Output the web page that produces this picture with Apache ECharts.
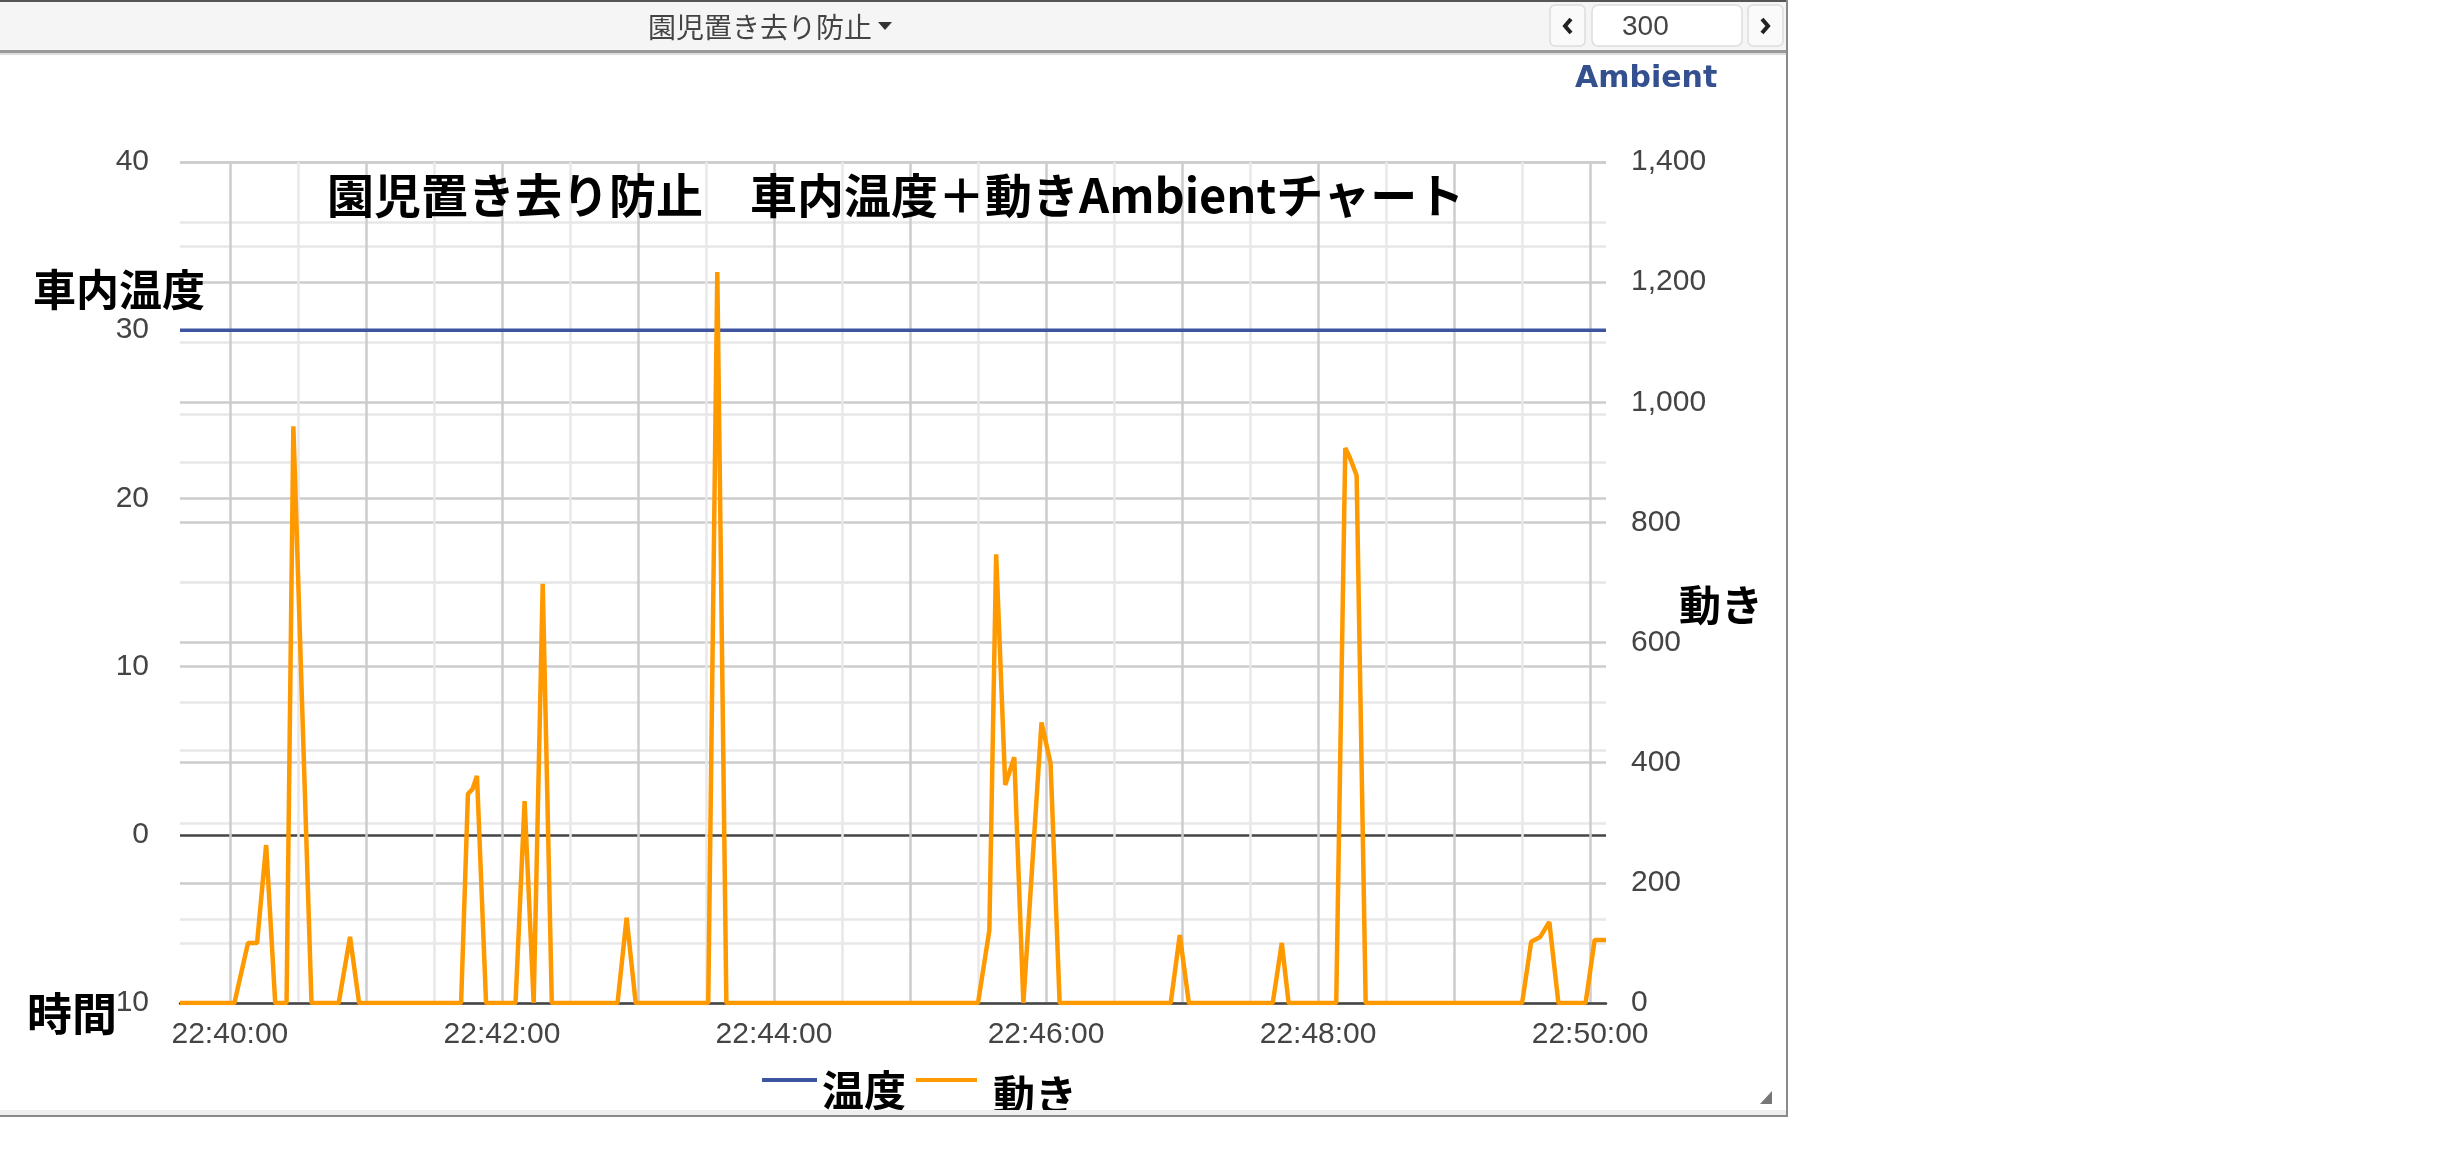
<!DOCTYPE html>
<html>
<head>
<meta charset="utf-8">
<script src="https://cdn.jsdelivr.net/npm/echarts@6/dist/echarts.min.js"></script>
<style>
html,body{margin:0;padding:0;background:#ffffff;}
#chart{width:2452px;height:1152px;}
</style>
</head>
<body>
<div id="chart"></div>
<script>
// ---- data ----
const motionTimes = ['22:39:38','22:40:02','22:40:08','22:40:12','22:40:16','22:40:20','22:40:25','22:40:28','22:40:36','22:40:48',
  '22:40:53','22:40:57','22:41:42','22:41:45','22:41:47','22:41:49','22:41:53','22:42:06','22:42:10','22:42:14',
  '22:42:18','22:42:22','22:42:51','22:42:55','22:42:59','22:43:31','22:43:35','22:43:39','22:45:30','22:45:35',
  '22:45:38','22:45:42','22:45:46','22:45:50','22:45:58','22:46:02','22:46:06','22:46:55','22:46:59','22:47:03',
  '22:47:40','22:47:44','22:47:47','22:48:08','22:48:12','22:48:14','22:48:17','22:48:21','22:49:30','22:49:34',
  '22:49:38','22:49:42','22:49:46','22:49:58','22:50:02','22:50:07'];
const motionValues = [0,0,100,100,263,0,0,960,0,0,
  110,0,0,348,356,378,0,0,336,0,
  698,0,0,142,0,0,1217,0,0,121,
  747,363,409,0,467,399,0,0,113,0,
  0,100,0,0,924,908,878,0,0,102,
  110,135,0,0,105,105];
const tempTimes = ['22:39:38','22:50:07'];
const tempValues = [30, 30];

const xLabelTimes = ['22:40:00','22:42:00','22:44:00','22:46:00','22:48:00','22:50:00'];
const xGridTimes = ['22:40:00','22:40:30','22:41:00','22:41:30','22:42:00','22:42:30','22:43:00','22:43:30',
  '22:44:00','22:44:30','22:45:00','22:45:30','22:46:00','22:46:30','22:47:00','22:47:30',
  '22:48:00','22:48:30','22:49:00','22:49:30','22:50:00'];
const leftAxisRange = [-10, 40, 10];
const rightAxisRange = [0, 1400, 200];

const seriesNames = ['温度', '動き'];
const titleText = '園児置き去り防止　車内温度＋動きAmbientチャート';
const headerText = '園児置き去り防止';

// ---- helpers ----
const BASE = 22 * 3600 + 40 * 60;
function toSec(t) {
  const p = t.split(':').map(Number);
  return p[0] * 3600 + p[1] * 60 + p[2] - BASE;
}
function fromSec(v) {
  const s = Math.round(v + BASE);
  const pad = n => String(n).padStart(2, '0');
  return pad(Math.floor(s / 3600)) + ':' + pad(Math.floor(s % 3600 / 60)) + ':' + pad(s % 60);
}

const chart = echarts.init(document.getElementById('chart'), null, {renderer: 'canvas'});
const LABEL_FONT = 'Liberation Sans, Arial, sans-serif';
const CJK = '"Noto Sans CJK JP", sans-serif';

const option = {
  animation: false,
  backgroundColor: '#ffffff',
  grid: {left: 180, right: 846, top: 162, bottom: 149, containLabel: false},
  xAxis: {
    type: 'value',
    min: toSec(motionTimes[0]),
    max: toSec(motionTimes[motionTimes.length - 1]),
    axisLine: {show: true, onZero: false, lineStyle: {color: '#444444', width: 2.5}},
    axisTick: {show: false, customValues: xGridTimes.map(toSec)},
    axisLabel: {
      customValues: xLabelTimes.map(toSec),
      formatter: v => fromSec(v),
      margin: 17, fontSize: 30, color: '#444444', fontFamily: LABEL_FONT
    },
    splitLine: {show: true, lineStyle: {color: ['#cccccc', '#e8e8e8'], width: 2.5}}
  },
  yAxis: [
    {
      type: 'value', position: 'left',
      min: leftAxisRange[0], max: leftAxisRange[1], interval: leftAxisRange[2],
      axisLine: {show: false}, axisTick: {show: false},
      axisLabel: {margin: 31, fontSize: 30, color: '#444444', fontFamily: LABEL_FONT},
      splitLine: {show: true, lineStyle: {color: ['#cccccc', '#444444', '#cccccc', '#cccccc', '#cccccc', '#cccccc'], width: 2.5}},
      minorTick: {show: false, splitNumber: 2},
      minorSplitLine: {show: true, lineStyle: {color: '#e8e8e8', width: 2.5}}
    },
    {
      type: 'value', position: 'right',
      min: rightAxisRange[0], max: rightAxisRange[1], interval: rightAxisRange[2],
      axisLine: {show: false}, axisTick: {show: false},
      axisLabel: {margin: 25, fontSize: 30, color: '#444444', fontFamily: LABEL_FONT,
        formatter: v => Number(v).toLocaleString('en-US')},
      splitLine: {show: true, lineStyle: {color: '#cccccc', width: 2.5}},
      minorTick: {show: false, splitNumber: 2},
      minorSplitLine: {show: true, lineStyle: {color: '#e8e8e8', width: 2.5}}
    }
  ],
  legend: [
    {
      data: [seriesNames[0]], left: 762, top: 1069, padding: 0,
      icon: 'path://M0,0H55V4H0Z M0,24H0.01V24.01H0Z', itemWidth: 55, itemHeight: 24.01, selectedMode: false,
      textStyle: {fontSize: 42, lineHeight: 42, fontWeight: 'bold', color: '#000000', fontFamily: CJK}
    },
    {
      data: [seriesNames[1]], left: 916, top: 1074, padding: 0,
      icon: 'path://M0,0H61V4H0Z M0,34H0.01V34.01H0Z', itemWidth: 61, itemHeight: 34.01, selectedMode: false,
      textStyle: {fontSize: 42, lineHeight: 42, fontWeight: 'bold', color: '#000000', fontFamily: CJK, padding: [0, 0, 0, 11]}
    }
  ],
  series: [
    {
      name: seriesNames[0], type: 'line', yAxisIndex: 0,
      data: tempTimes.map((t, i) => [toSec(t), tempValues[i]]),
      showSymbol: false, symbol: 'none',
      lineStyle: {color: '#3d55a0', width: 3.5}, itemStyle: {color: '#3d55a0'},
      emphasis: {disabled: true}, silent: true
    },
    {
      name: seriesNames[1], type: 'line', yAxisIndex: 1,
      data: motionTimes.map((t, i) => [toSec(t), motionValues[i]]),
      showSymbol: false, symbol: 'none',
      lineStyle: {color: '#ff9900', width: 4.5}, itemStyle: {color: '#ff9900'},
      emphasis: {disabled: true}, silent: true
    }
  ],
  graphic: {
    elements: [
      // panel frame / header
      {type: 'rect', z: 100, shape: {x: 0, y: 0, width: 1787, height: 51}, style: {fill: '#f5f5f5'}},
      {type: 'rect', z: 101, shape: {x: 0, y: 0, width: 1787, height: 2}, style: {fill: '#555555'}},
      {type: 'rect', z: 101, shape: {x: 0, y: 50, width: 1787, height: 3}, style: {fill: '#9a9a9a'}},
      {type: 'rect', z: 101, shape: {x: 0, y: 53, width: 1787, height: 2}, style: {fill: '#dddddd'}},
      {type: 'rect', z: 101, shape: {x: 1786, y: 0, width: 2, height: 1117}, style: {fill: '#8a8a8a'}},
      {type: 'rect', z: 101, shape: {x: 0, y: 1110, width: 1786, height: 5}, style: {fill: '#eeeeee'}},
      {type: 'rect', z: 101, shape: {x: 0, y: 1115, width: 1788, height: 2}, style: {fill: '#8a8a8a'}},
      // header title + caret
      {type: 'text', z: 102, x: 648, y: 27, style: {text: headerText, fontSize: 28, fontFamily: CJK, fill: '#444444', align: 'left', verticalAlign: 'middle'}},
      {type: 'polygon', z: 102, shape: {points: [[878, 22], [892, 22], [885, 30]]}, style: {fill: '#333333'}},
      // nav controls
      {type: 'rect', z: 102, shape: {x: 1550, y: 5, width: 35, height: 41, r: 5}, style: {fill: '#fafafa', stroke: '#dddddd', lineWidth: 1.5}},
      {type: 'polyline', z: 103, shape: {points: [[1571, 19], [1565, 26], [1571, 33]]}, style: {stroke: '#222222', lineWidth: 4, fill: null}},
      {type: 'rect', z: 102, shape: {x: 1592, y: 5, width: 150, height: 41, r: 6}, style: {fill: '#ffffff', stroke: '#dddddd', lineWidth: 1.5}},
      {type: 'text', z: 103, x: 1622, y: 27, style: {text: '300', fontSize: 28, fontFamily: LABEL_FONT, fill: '#444444', align: 'left', verticalAlign: 'middle'}},
      {type: 'rect', z: 102, shape: {x: 1748, y: 5, width: 35, height: 41, r: 5}, style: {fill: '#fafafa', stroke: '#dddddd', lineWidth: 1.5}},
      {type: 'polyline', z: 103, shape: {points: [[1762, 19], [1768, 26], [1762, 33]]}, style: {stroke: '#222222', lineWidth: 4, fill: null}},
      // brand
      {type: 'text', z: 102, x: 1575, y: 79, style: {text: 'Ambient', fontSize: 30, fontWeight: 'bold', fontFamily: 'DejaVu Sans, Verdana, sans-serif', fill: '#34508f', align: 'left', verticalAlign: 'middle'}},
      // overlay annotations
      {type: 'text', z: 110, x: 327, y: 195, style: {text: titleText, fontSize: 47, fontWeight: 'bold', fontFamily: CJK, fill: '#000000', align: 'left', verticalAlign: 'middle'}},
      {type: 'text', z: 110, x: 33, y: 290, style: {text: '車内温度', fontSize: 43, fontWeight: 'bold', fontFamily: CJK, fill: '#000000', align: 'left', verticalAlign: 'middle'}},
      {type: 'rect', z: 109, shape: {x: 98, y: 992, width: 18, height: 22}, style: {fill: '#ffffff'}},
      {type: 'text', z: 110, x: 27, y: 1014, style: {text: '時間', fontSize: 45, fontWeight: 'bold', fontFamily: CJK, fill: '#000000', align: 'left', verticalAlign: 'middle'}},
      {type: 'text', z: 110, x: 1679, y: 605, style: {text: '動き', fontSize: 42, fontWeight: 'bold', fontFamily: CJK, fill: '#000000', align: 'left', verticalAlign: 'middle'}},
      // resize grip
      {type: 'polygon', z: 102, shape: {points: [[1772, 1091], [1772, 1104], [1760, 1104]]}, style: {fill: '#777777'}}
    ]
  }
};
chart.setOption(option);
</script>
</body>
</html>
